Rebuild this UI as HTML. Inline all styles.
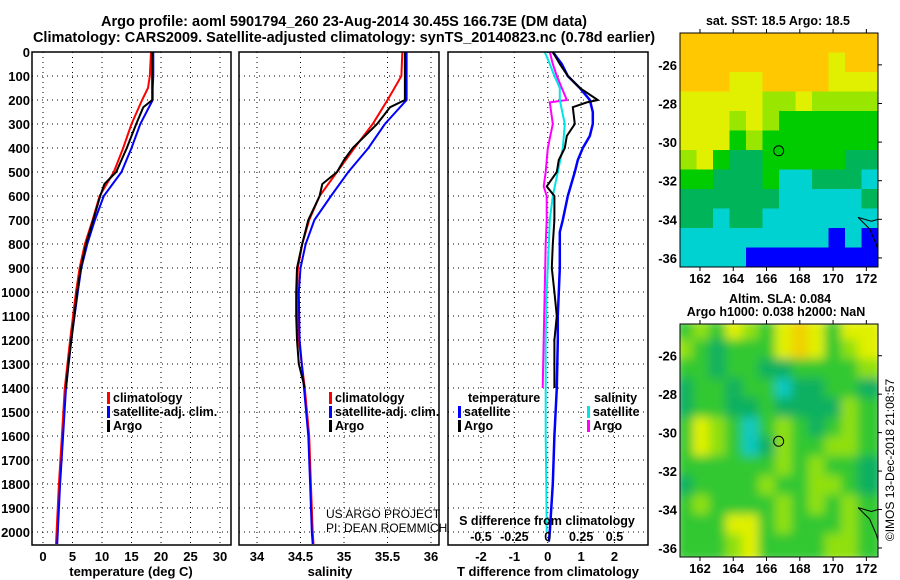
<!DOCTYPE html>
<html><head><meta charset="utf-8"><style>
body{margin:0;background:#fff;width:900px;height:580px;overflow:hidden}
svg{display:block;font-family:"Liberation Sans",sans-serif;font-weight:bold}
</style></head><body>
<svg id="c" width="900" height="580" viewBox="0 0 900 580">
<text x="344" y="26" text-anchor="middle" font-size="14.5">Argo profile: aoml 5901794_260 23-Aug-2014 30.45S 166.73E (DM data)</text>
<text x="344" y="42" text-anchor="middle" font-size="14.5">Climatology: CARS2009. Satellite-adjusted climatology: synTS_20140823.nc (0.78d earlier)</text>
</svg>
<script>
// ---- data ----
const depthTicks=[0,100,200,300,400,500,600,700,800,900,1000,1100,1200,1300,1400,1500,1600,1700,1800,1900,2000];
const tTicks=[0,5,10,15,20,25,30];
const sTicks=[34,34.5,35,35.5,36];
const dTTicks=[-2,-1,0,1,2];
const dSTicks=[-0.5,-0.25,0,0.25,0.5];
const dSTickLabels=["-0.5","-0.25","0","0.25","0.5"];

const argoDepth=[0,50,100,150,200,230,300,350,400,450,500,550,600,700,800,900,1000,1100,1200,1300,1400];
const argoT=[18.5,18.5,18.5,18.5,18.5,17.0,15.8,15.0,14.2,13.3,12.4,10.4,9.7,8.5,7.3,6.4,5.8,5.3,4.8,4.3,3.9];
const argoS=[35.70,35.70,35.70,35.70,35.70,35.53,35.38,35.24,35.10,35.00,34.92,34.75,34.72,34.59,34.52,34.46,34.45,34.45,34.46,34.48,34.55];
const climDepth=[0,100,150,200,300,400,500,600,700,800,900,1000,1200,1400,1600,1800,2000,2050];
const climT=[18.3,18.1,17.8,16.8,15.0,13.6,12.0,9.6,8.4,7.1,6.2,5.6,4.6,3.7,3.2,2.7,2.3,2.2];
const climS=[35.67,35.66,35.58,35.50,35.33,35.12,34.92,34.72,34.60,34.52,34.47,34.46,34.48,34.55,34.60,34.62,34.64,34.65];
const satT=[18.7,18.7,18.6,18.6,16.5,15.0,13.3,10.3,8.8,7.5,6.5,5.9,4.8,3.9,3.4,2.9,2.5,2.4];
const satS=[35.72,35.72,35.72,35.72,35.47,35.28,35.05,34.85,34.66,34.56,34.50,34.48,34.49,34.54,34.59,34.61,34.63,34.64];

const dArgoDepth=[0,50,100,150,200,210,230,300,350,400,450,500,560,600,700,800,900,1000,1100,1200,1300,1400];
const dArgoT=[0.15,0.36,0.6,0.96,1.5,1.17,0.75,0.81,0.57,0.51,0.33,0.27,-0.03,0.2,0.2,0.15,0.12,0.2,0.27,0.2,0.2,0.2];
const dArgoSDepth=[0,50,100,150,200,210,300,400,500,560,600,700,800,1000,1200,1400];
const dArgoS=[0.015,0.038,0.068,0.105,0.143,0.015,0.038,0,-0.015,-0.03,-0.008,-0.008,-0.015,-0.023,-0.03,-0.038];
const dSatDepth=[0,50,100,150,200,250,300,350,400,450,500,600,700,750,800,900,1000,1100,1200,1400,1600,1800,2000,2040];
const dSatT=[0.15,0.42,0.6,0.96,1.26,1.35,1.35,1.26,1.05,0.9,0.81,0.6,0.45,0.36,0.36,0.36,0.33,0.3,0.3,0.27,0.2,0.15,0.06,0.03];
const dSatSDepth=[0,50,100,150,200,300,400,500,600,700,800,1000,1200,1400,1600,1800,2000];
const dSatS=[-0.023,0.015,0.05,0.09,0.09,0.128,0.113,0.075,0.038,0.015,0.008,-0.008,-0.015,-0.015,-0.015,-0.011,-0.008];

const lonTicks=[162,164,166,168,170,172];
const latTicks=[-26,-28,-30,-32,-34,-36];
const sstGrid=[
[6,6,6,6,6,6,6,6,6,6,6,6],
[6,6,6,6,6,6,6,6,6,5,6,6],
[6,6,6,5,5,6,6,6,6,5,5,5],
[5,5,5,5,5,4,4,5,4,4,4,4],
[5,5,5,4,5,4,3,3,3,3,3,3],
[5,5,5,3,4,3,3,3,3,3,3,3],
[4,5,3,2,2,3,3,3,3,3,2,2],
[3,3,2,2,2,3,1,1,2,2,2,1],
[2,2,2,2,2,2,1,1,1,1,1,2],
[2,2,1,2,2,1,1,1,1,1,1,1],
[1,1,1,1,1,1,1,1,1,0,1,0],
[1,1,1,1,0,0,0,0,0,0,0,0]];
const slaGrid=[
[2,3,2,4,3,2,4,5,4,2,4,4],
[3,2,1,2,2,2,4,5,4,2,3,4],
[2,2,1,2,2,1,1,2,2,2,2,3],
[1,2,2,1,2,2,0,1,1,2,2,1],
[1,2,2,1,1,2,1,1,1,1,3,2],
[2,4,3,2,0,2,3,2,1,2,3,2],
[2,4,3,2,0,1,3,2,2,3,3,2],
[2,2,2,2,2,2,3,2,3,2,2,1],
[1,2,2,2,2,3,2,2,3,3,2,1],
[2,3,2,2,2,2,3,2,3,2,3,2],
[2,2,2,4,4,2,3,2,2,2,3,2],
[2,2,2,3,4,2,2,2,2,3,3,2]];
const sstColors=["#0000ff","#00d2d2","#00b45a","#00cc00","#99e600","#e0f000","#ffc800"];
const slaColors=["#10c8c0","#10b060","#30c830","#90e010","#e0f000","#f0d000"];
const floatLon=166.73, floatLat=-30.45;

// ---- helpers ----
const svg=document.getElementById('c');
const NS='http://www.w3.org/2000/svg';
function mk(tag,attrs,parent){const e=document.createElementNS(NS,tag);for(const k in attrs)e.setAttribute(k,attrs[k]);(parent||svg).appendChild(e);return e;}
function lin(d0,d1,r0,r1){return v=>r0+(v-d0)*(r1-r0)/(d1-d0);}
const TOP=52,BOT=545;
const yD=lin(0,2054,TOP,BOT);

function panel(x0,x1,xs,ticks,labels,name){
  const g=mk('g',{});
  
  
  depthTicks.forEach(d=>{mk('line',{x1:x0,x2:x1,y1:yD(d),y2:yD(d),stroke:'#000','stroke-dasharray':'1,4','stroke-width':1},g);});
  ticks.forEach((t,i)=>{const x=xs(t);mk('line',{x1:x,x2:x,y1:TOP,y2:BOT,stroke:'#000','stroke-dasharray':'1,4','stroke-width':1},g);
    if(labels){const tx=mk('text',{x:x,y:561,'text-anchor':'middle','font-size':13},g);tx.textContent=labels[i];
    
    }});
  return g;
}
function box(x0,x1,name){const r=mk('rect',{x:x0,y:TOP,width:x1-x0,height:BOT-TOP,fill:'none',stroke:'#000','stroke-width':1.5});
  
  }
function line(xs,depths,vals,color,name,w){
  const pts=depths.map((d,i)=>xs(vals[i]).toFixed(1)+','+yD(d).toFixed(1)).join(' ');
  const p=mk('polyline',{points:pts,fill:'none',stroke:color,'stroke-width':w||2});
  
  
}
function txt(x,y,s,size,name,anchor,extra){const t=mk('text',Object.assign({x:x,y:y,'font-size':size,'text-anchor':anchor||'start'},extra||{}));t.textContent=s;
  
  return t;}
function legend(x,y,items,name){
  items.forEach((it,i)=>{const yy=y+i*14;
    const m=mk('rect',{x:x,y:yy-10,width:3,height:12,fill:it[1]});
    
    
    txt(x+6,yy,it[0],12.5,name+'-entry');});
}

// depth labels
depthTicks.forEach(d=>{const t=txt(30,yD(d)+5,String(d),13,'y-tick-label','end');});

// panel 1 temperature
const xT=lin(0,30,43,220);
panel(32,231,xT,tTicks,tTicks.map(String),'temperature-panel');
line(xT,climDepth,climT,'#ff0000','climatology-temperature-line');
line(xT,climDepth,satT,'#0000ff','satellite-temperature-line');
line(xT,argoDepth,argoT,'#000','argo-temperature-line');
box(32,231,'temperature-axes');
txt(131,576,'temperature (deg C)',13,'temperature-axis-title','middle');
legend(107,402,[['climatology','#ff0000'],['satellite-adj. clim.','#0000ff'],['Argo','#000']],'temperature-legend');

// panel 2 salinity
const xS=lin(34,36,257,431);
panel(239,439,xS,sTicks,sTicks.map(String),'salinity-panel');
line(xS,climDepth,climS,'#ff0000','climatology-salinity-line');
line(xS,climDepth,satS,'#0000ff','satellite-salinity-line');
line(xS,argoDepth,argoS,'#000','argo-salinity-line');
box(239,439,'salinity-axes');
txt(330,576,'salinity',13,'salinity-axis-title','middle');
legend(329,402,[['climatology','#ff0000'],['satellite-adj. clim.','#0000ff'],['Argo','#000']],'salinity-legend');
txt(326,518,'US ARGO PROJECT',12,'credit-project','start',{'font-weight':'normal'});
txt(326,532,'PI: DEAN ROEMMICH',12,'credit-pi','start',{'font-weight':'normal'});

// panel 3 differences
const xdT=lin(-2,2,481,614.5);
const xdS=lin(-0.5,0.5,481,614.5);
panel(448,648,xdT,dTTicks,dTTicks.map(String),'difference-panel');
line(xdS,dArgoSDepth,dArgoS,'#ff00ff','argo-salinity-difference-line');
line(xdS,dSatSDepth,dSatS,'#00e5e5','satellite-salinity-difference-line');
line(xdT,dSatDepth,dSatT,'#0000ff','satellite-temperature-difference-line',2.5);
line(xdT,dArgoDepth,dArgoT,'#000','argo-temperature-difference-line');
box(448,648,'difference-axes');
dSTicks.forEach((t,i)=>{txt(xdS(t),541,dSTickLabels[i],12.5,'s-difference-tick-label','middle');});
txt(547,525,'S difference from climatology',12.5,'s-difference-axis-title','middle');
txt(548,576,'T difference from climatology',13,'t-difference-axis-title','middle');
txt(468,402,'temperature',12.5,'difference-legend-temperature-header');
legend(458,416,[['satellite','#0000ff'],['Argo','#000']],'temperature-difference-legend');
txt(594,402,'salinity',12.5,'difference-legend-salinity-header');
legend(587,416,[['satellite','#00e5e5'],['Argo','#ff00ff']],'salinity-difference-legend');

// maps
function map(y0,y1,grid,colors,name,blur){
  const x0=680,x1=878;
  const xL=lin(160.8,172.7,x0,x1);
  const yL=lin(-24.35,-36.47,y0,y1);
  const g=mk('g',{});
  
  
  const cid='clip'+name;
  const cp=mk('clipPath',{id:cid},g);mk('rect',{x:x0,y:y0,width:x1-x0,height:y1-y0},cp);
  const cg=mk('g',{'clip-path':'url(#'+cid+')'},g);
  const inner=mk('g',blur?{filter:'url(#bl)'}:{},cg);
  const rows=grid.length,cols=grid[0].length;
  const dLat=(36.47-24.35)/rows,dLon=(172.7-160.8)/cols;
  grid.forEach((row,r)=>row.forEach((v,c)=>{
    const lx=160.8+c*dLon, ly=-24.35-r*dLat;
    const px=xL(lx),py=yL(ly);
    const cell=mk('rect',{x:px-(blur?4:0),y:py-(blur?4:0),width:xL(lx+dLon)-px+0.6+(blur?8:0),height:yL(ly-dLat)-py+0.6+(blur?8:0),fill:colors[v]},inner);
    
    
  }));
  // coastline
  const cl=mk('path',{d:`M${xL(171.5)},${yL(-33.9)} L${xL(172.2)},${yL(-34.5)} L${xL(172.6)},${yL(-35.3)} L${xL(172.7)},${yL(-35.6)} M${xL(171.5)},${yL(-33.9)} L${xL(172.3)},${yL(-34.1)} L${xL(172.7)},${yL(-34.0)}`,fill:'none',stroke:'#000','stroke-width':1},cg);
  
  
  const fc=mk('circle',{cx:xL(floatLon),cy:yL(floatLat),r:5,fill:'none',stroke:'#000','stroke-width':1},g);
  
  
  mk('rect',{x:x0,y:y0,width:x1-x0,height:y1-y0,fill:'none',stroke:'#000','stroke-width':1},g);
  lonTicks.forEach(l=>{const x=xL(l);mk('line',{x1:x,x2:x,y1:y0-4,y2:y0,stroke:'#000'},g);mk('line',{x1:x,x2:x,y1:y1,y2:y1+4,stroke:'#000'},g);
    txt(x,y1+16,String(l),13,'lon-tick-label','middle');});
  latTicks.forEach(l=>{const y=yL(l);mk('line',{x1:x1,x2:x1+4,y1:y,y2:y,stroke:'#000'},g);
    txt(677,y+5,String(l),13,'lat-tick-label','end');});
}
const defs=mk('defs',{});const f=mk('filter',{id:'bl',x:'-5%',y:'-5%',width:'110%',height:'110%'},defs);mk('feGaussianBlur',{stdDeviation:5},f);
map(33,267,sstGrid,sstColors,'sst-map',false);
map(324,557,slaGrid,slaColors,'sla-map',true);
txt(778,25,'sat. SST: 18.5 Argo: 18.5',12.5,'sst-map-title','middle');
txt(780,303,'Altim. SLA: 0.084',12.5,'sla-map-title-1','middle');
txt(776,316,'Argo h1000: 0.038 h2000: NaN',12.5,'sla-map-title-2','middle');
txt(0,0,'©IMOS 13-Dec-2018 21:08:57',12,'imos-credit','middle',{transform:'translate(894,460) rotate(-90)','font-weight':'normal'});
</script>
</body></html>
